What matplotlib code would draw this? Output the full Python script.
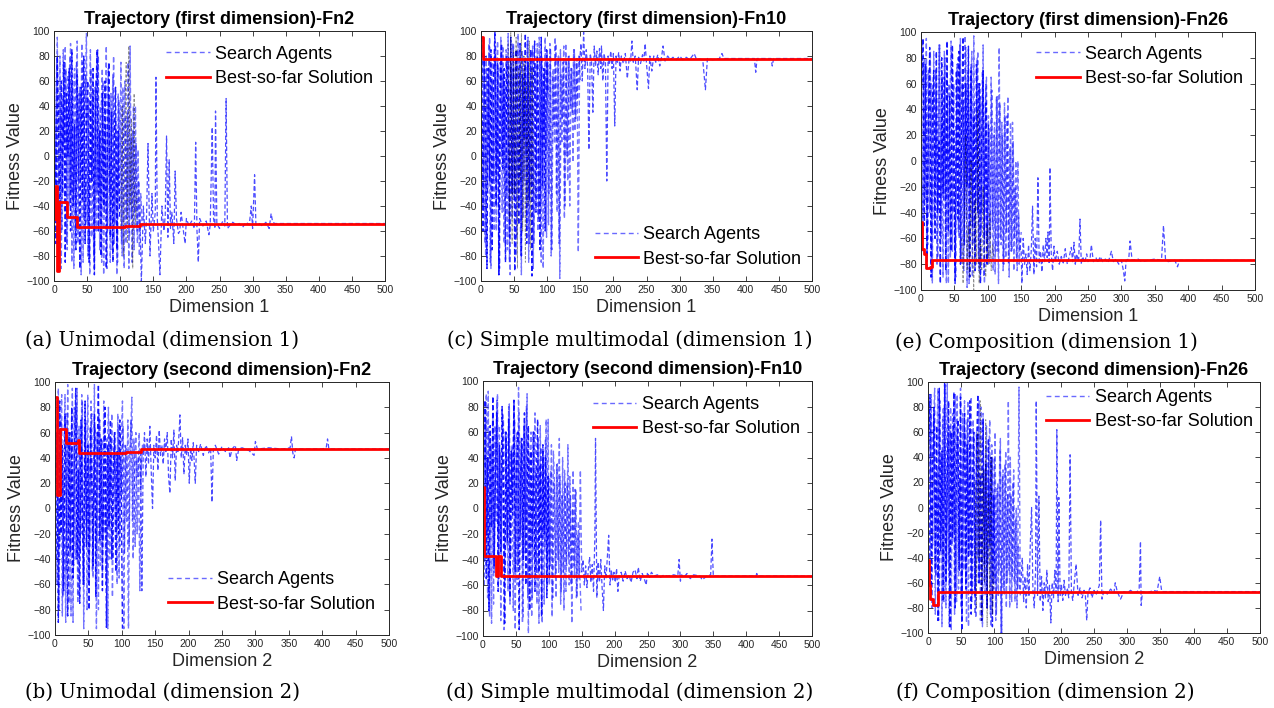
import numpy as np
import matplotlib
matplotlib.use("Agg")
import matplotlib.pyplot as plt
from matplotlib.lines import Line2D

plt.rcParams['font.family'] = ['Liberation Sans', 'DejaVu Sans']

# ---------------- Fn2, dimension 1 ----------------
best_a_x = [0, 2, 4, 7, 19, 35, 107, 130, 500]
best_a_y = [-50, -24, -92, -37, -49, -57, -56, -54, -54]
agent_a1 = [60, -30, 95, -60, 80, -90, 45, 10, 88, -70, 65, -40, 90, -85, 30, 70, -60, 92, -20, 55,
            -95, 75, -50, 40, 98, -80, 20, 85, -65, 50, -90, 60, -30, 80, -75, 35, 70, -95, 15, 88,
            -60, 45, -85, 20, 65, -70, 30, -95, 50, -40, 75, -80, 10, 60, -70, 35, -90, 88, -50, 20,
            -75, 40, -60, 5, -80, -30, -55]
agent_a2 = [-20, 75, -85, 50, 20, -60, 85, -45, 70, -75, 40, 80, -30, 60, -90, 35, 75, -70, 50, -20,
            90, -85, 30, 65, -55, 45, -95, 70, 15, -80, 55, -60, 85, -25, 40, -85, 60, -45, 25, -90,
            70, -30, 50, -75, 80, -55, 20, -85, 45, 10, -70, 55, -90, 30, -50, 75, -65, 15, -85, 40,
            -45, 10, -70, -20, -60]
agent_a3 = [30, -70, 80, 20, -50, 60, -30, 75, -85, 50, 0, 70, -60, 85, -40, 25, -75, 65, 10, -90,
            55, -35, 80, -70, 30, 60, -85, 45, -20, 70, -95, 40, 85, -60, 20, -80, 50, -40, 60, -90,
            25, 75, -65, 35, -85, 10, 55, -75, 20, -50]
agent_a_black = [-60, 40, -80, 20, 75, -70, 88, -40, 30, -90, 50, -55, -30]
tail_a = [(130, -55), (132, -100), (135, -40), (138, -70), (140, -45), (142, 10), (145, -80), (148, -30),
          (150, -60), (153, -45), (154, 63), (156, -50), (158, -70), (160, -95), (163, -40), (166, -60),
          (168, -48), (170, 16), (172, -65), (174, -3), (176, -58), (178, -45), (181, -70), (183, -12),
          (185, -50), (188, -62), (190, -60), (192, -45), (195, -58), (198, -70), (200, -50), (204, -56),
          (208, -52), (212, -58), (214, 11), (216, -60), (218, -85), (220, -50), (225, -56), (230, -52),
          (234, -63), (236, -55), (239, 23), (241, -50), (243, -57), (244, 36), (246, -54), (250, -58),
          (255, -52), (258, -56), (260, 46), (262, -58), (265, -56), (270, -53), (275, -55), (280, -54),
          (285, -57), (290, -53), (295, -55), (298, -40), (300, -58), (303, -15), (305, -55), (310, -54),
          (315, -56), (320, -53), (325, -58), (328, -46), (330, -52), (333, -54), (336, -54), (500, -54)]

# ---------------- Fn2, dimension 2 ----------------
best_b_x = [0, 3, 7, 17, 34, 36, 107, 128, 500]
best_b_y = [88, 11, 63, 52, 54, 44, 45, 47, 47]
agent_b1 = [85, -60, 95, -30, 70, -85, 40, 90, -50, 98, -75, 60, 20, -90, 80, -40, 95, -70, 50, -20,
            85, -95, 65, -10, 90, -60, 40, 75, -55, 98, -30, 60, -80, 70, 20, -50, 85, -20, 55, -95,
            60, 10, 75, -40, 50, 20, -60, 65, -30, 45, 85, -95, 50, -10, 70, -30, 55, 88, -40, 30,
            60, -20, 45, -65, 30, 50, 45]
agent_b2 = [-40, 70, -80, 55, 90, -70, 30, -90, 75, -20, 60, -85, 95, -45, 35, 80, -75, 65, -35, 90,
            -60, 25, 70, -80, 50, -30, 85, -50, 15, 65, -95, 40, 75, -45, 55, -25, 70, -60, 35, 80,
            -40, 55, -70, 30, 60, -15, 75, -55, 40, 10, 65, -35, 50, 20, -95, 45, 70, -10, 55, -30,
            40, 25, 60, 15, 45]
agent_b3 = [20, 60, -90, 85, -20, 50, -65, 75, 10, -85, 60, -35, 80, -55, 45, 95, -40, 30, -75, 70,
            0, -60, 85, -30, 50, -80, 65, 20, -45, 75, -70, 40, 98, -25, 55, -65, 35, 80, -94, 50,
            -15, 70, -40, 25, 60, -50, 45, -20, 70, 30, -95]
agent_b_black = []
tail_b = [(128, 45), (130, -65), (132, 40), (134, 60), (136, 25), (138, 55), (140, 35), (142, 65),
          (144, 30), (146, 0), (148, 50), (150, 40), (152, 58), (154, 30), (156, 62), (158, 42),
          (160, 50), (162, 35), (164, 55), (166, 45), (168, 60), (170, 25), (172, 12), (174, 55),
          (176, 40), (178, 62), (180, 22), (182, 50), (184, 45), (186, 62), (187, 74), (189, 40),
          (191, 56), (193, 27), (195, 50), (197, 42), (199, 55), (201, 20), (203, 48), (205, 38),
          (207, 52), (210, 20), (212, 50), (215, 45), (218, 51), (222, 42), (226, 50), (230, 44),
          (233, 48), (235, 5), (237, 46), (240, 50), (245, 43), (250, 49), (255, 45), (260, 48),
          (262, 40), (265, 47), (270, 50), (272, 38), (275, 47), (280, 48), (290, 46), (298, 42),
          (300, 53), (303, 47), (320, 48), (340, 47), (352, 48), (354, 57), (356, 44), (358, 40),
          (360, 47), (400, 47), (406, 48), (408, 55), (410, 47), (500, 47)]

# ---------------- Fn10, dimension 1 ----------------
best_c_x = [0, 3, 500]
best_c_y = [95, 78, 78]
agent_c1 = [90, -40, 85, -80, 70, 20, 95, -90, 60, -20, 80, -60, 92, -95, 75, 0, 88, -70, 55, -30,
            98, -85, 70, -50, 90, 10, -80, 85, -40, 65, -95, 80, -20, 75, -60, 95, -70, 40, 85, -90,
            70, -10, 90, -50, 80, -85, 60, 20, 95, -65, 75, -30, 85, -75, 70, 10, 90, -45, 80, -98,
            65, 30, 88, -40, 75, -20, 80, 40, 70, -5, 85, 30, 78, -77, 80]
agent_c2 = [60, 95, -70, 80, -30, 90, -85, 50, 75, -60, 88, -10, 70, -90, 95, -45, 65, 15, 85, -75,
            80, -95, 60, 90, -35, 75, -65, 98, 20, -80, 85, -50, 70, 0, 92, -85, 60, -25, 88, -70,
            75, 30, -60, 95, -40, 80, -90, 70, 5, 85, -55, 90, -80, 65, 25, 95, -30, 78, -70, 85,
            10, 75, -50, 90, 0, 80, -40, 70, 35, 85, 20, 75, 45, 80, 60]
agent_c3 = [95, -60, 80, 30, -90, 70, -20, 85, -75, 60, 100, -40, 75, -95, 55, 90, -10, 70, -85, 80,
            25, -65, 95, -30, 70, -92, 85, 40, -55, 90, -80, 65, 15, 98, -70, 75, -35, 85, -96, 60,
            92, -45, 80, 10, -75, 95, -25, 70, -60, 85, 50]
agent_c_black = [90, -50, 100, -70, 85, -30, 95, -90, 70, -20, 98, -60, 80, -85, 60, -40, 92, -75, 70, -30]
tail_c = [(149, 75), (151, 90), (153, 60), (155, 99), (157, 70), (159, 85), (161, 72), (163, 5),
          (165, 82), (167, 75), (169, 35), (171, 88), (173, 72), (175, 84), (177, 65), (179, 86),
          (181, 70), (182, 88), (184, 60), (186, 82), (188, 74), (190, -20), (192, 80), (194, 73),
          (196, 84), (198, 70), (200, 82), (202, 24), (204, 80), (206, 75), (208, 83), (210, 68),
          (212, 80), (215, 74), (218, 82), (221, 62), (224, 79), (226, 76), (228, 92), (230, 75),
          (233, 80), (236, 53), (238, 79), (241, 74), (244, 81), (246, 76), (248, 90), (250, 74),
          (253, 54), (255, 80), (258, 68), (261, 80), (264, 75), (267, 81), (270, 72), (273, 80),
          (275, 88), (278, 76), (282, 80), (286, 77), (290, 79), (295, 77), (300, 80), (305, 77),
          (310, 79), (315, 77), (322, 82), (325, 78), (335, 77), (339, 53), (342, 78), (350, 77),
          (360, 78), (364, 82), (367, 78), (400, 78), (413, 78), (415, 67), (417, 78), (438, 78),
          (440, 72), (442, 78), (500, 78)]

# ---------------- Fn10, dimension 2 ----------------
best_d_x = [0, 2, 19, 23, 28, 500]
best_d_y = [17, -37, -53, -37, -53, -53]
agent_d1 = [80, -40, 90, -70, 60, 20, -90, 75, -50, 40, 85, -20, 65, -88, 30, 70, -60, 55, -30, 80,
            -75, 45, 10, 83, -95, 60, -45, 75, -20, 50, -85, 68, -10, 90, -98, 40, 60, -70, 25, 75,
            -50, 35, -90, 65, -20, 45, -75, 55, -40, 70, -60, 30, -85, 45, 15, -70, 35, -50, 25, -65,
            40, -80, 20, -45, 50, -60, 10, -90, 30, -55, 15, -70, -10, -50, -80]
agent_d2 = [-60, 70, -20, 92, -85, 50, 35, -75, 65, -10, 90, -55, 45, -30, 75, -95, 60, 15, -65, 82,
            -40, 50, -80, 70, 0, -60, 95, -25, 55, -90, 65, -35, 80, -70, 40, 5, -85, 60, -40, 30,
            -75, 55, -15, 48, -90, 40, -30, 70, -60, 25, -45, 50, -70, 20, -55, 35, -40, 55, -75, 10,
            -50, 30, -65, 20, -40, 25, -60, 0, -45, 15, -70, -20, -55, 30, -50]
agent_d3 = [20, 85, -55, 40, -80, 65, -15, 88, -45, 30, 75, -65, 50, -35, 80, 10, -90, 60, -25, 70,
            -70, 45, -5, 85, -50, 35, 60, -95, 25, 55, -40, 75, -60, 15, 65, -80, 45, -30, 60, -65,
            20, 70, -50, 35, -85, 50, -20, 40, -70, 25, -55]
agent_d_black = []
tail_d = [(150, -50), (152, -40), (154, -60), (156, -45), (158, -62), (160, -48), (162, -38), (164, -58),
          (166, -44), (168, -65), (170, -22), (171, 55), (173, -70), (175, -42), (177, -58), (179, -40),
          (181, -62), (183, -80), (185, -45), (187, -55), (189, -38), (191, -21), (193, -60), (195, -48),
          (197, -56), (199, -50), (201, -58), (203, -47), (205, -65), (207, -52), (210, -50), (213, -57),
          (216, -49), (219, -55), (222, -52), (225, -58), (228, -50), (231, -48), (234, -55), (236, -46),
          (239, -57), (242, -51), (245, -55), (248, -60), (250, -50), (253, -54), (256, -50), (260, -53),
          (265, -52), (270, -54), (275, -52), (280, -53), (290, -52), (296, -53), (298, -40), (300, -57),
          (302, -52), (305, -54), (310, -51), (315, -55), (320, -52), (330, -53), (333, -56), (340, -53),
          (346, -52), (348, -24), (350, -53), (415, -53), (416, -51), (418, -53), (500, -53)]

# ---------------- Fn26, dimension 1 ----------------
best_e_x = [0, 1, 2, 4, 8, 13, 16, 500]
best_e_y = [-47, -60, -68, -72, -83, -82, -77, -77]
agent_e1 = [90, -60, 80, 20, -85, 70, -40, 60, -95, 85, -20, 50, -75, 90, -50, 30, -90, 85, -30, 70,
            -95, 40, 93, -70, 60, -85, 20, 80, -60, 95, -80, 45, -35, 88, -98, 55, -20, 75, -90, 97,
            -70, 30, 85, -85, 50, -40, 90, -95, 60, -60, 35, -80, 65, -50, 20, -88, 50, -70, 88, -60,
            30, -85, 45, -75, 35, -80, 10, -70, 30, -85, -20, -75, 0, -80, -60]
agent_e2 = [-70, 75, -30, 95, -65, 40, 85, -90, 55, -45, 70, -80, 20, 90, -60, 65, -30, 80, -95, 50,
            60, -75, 85, -40, 25, -90, 75, -55, 90, -20, 60, -85, 97, -45, 70, -95, 35, 85, -65, 45,
            -30, 80, -80, 60, -55, 70, -90, 40, 65, -75, 25, -60, 55, -85, 30, -70, 50, -95, 45, -65,
            20, -80, 35, -55, 50, -90, 30, -70, 15, -60, 0, -85, -40, -70, -55]
agent_e3 = [60, 95, -50, 75, -75, 30, 88, -90, 45, 70, -60, 85, -40, 15, -95, 80, -25, 65, -85, 93,
            -55, 50, -70, 90, 10, -95, 70, -45, 85, -80, 40, 96, -65, 60, -20, 89, -90, 70, -50, 35,
            -85, 75, -40, 60, -95, 20, 70, -60, 45, -80, 30]
agent_e_black = [-60, -95, -40, 20, -85, -50, -90, 0, -70, -100, -30, -80, 40, -95, -60, -85, -20, -75,
                 -90, -50, -80, -40, -85, -65, -75]
tail_e = [(150, -70), (151, -95), (153, -60), (155, -80), (157, -72), (159, -88), (161, -65), (163, -85),
          (165, -70), (167, -35), (169, -88), (171, -60), (173, -82), (175, -13), (177, -80), (179, -70),
          (181, -86), (183, -65), (185, -78), (187, -60), (189, -75), (190, -55), (192, -80), (193, -5),
          (195, -72), (197, -85), (199, -66), (201, -78), (204, -70), (207, -80), (210, -74), (213, -79),
          (216, -68), (219, -80), (222, -74), (225, -67), (227, -78), (229, -63), (231, -80), (233, -72),
          (236, -78), (238, -45), (240, -80), (242, -74), (245, -79), (248, -72), (250, -78), (253, -76),
          (255, -65), (258, -78), (262, -75), (265, -79), (268, -74), (272, -78), (276, -76), (280, -79),
          (285, -70), (288, -78), (292, -76), (296, -80), (300, -77), (303, -85), (305, -93), (307, -77),
          (311, -76), (313, -62), (316, -77), (325, -76), (330, -78), (340, -77), (350, -76), (360, -77),
          (363, -50), (366, -76), (370, -78), (380, -77), (384, -82), (387, -77), (500, -77)]

# ---------------- Fn26, dimension 2 ----------------
best_f_x = [0, 2, 3, 7, 8, 15, 500]
best_f_y = [-42, -62, -73, -75, -78, -67, -67]
agent_f1 = [85, -60, 90, -30, 70, -85, 50, 95, -70, 40, -95, 80, 20, -80, 100, -50, 65, -98, 75, -20,
            90, -75, 55, -40, 95, -90, 30, 85, -60, 70, -95, 45, 88, -70, 20, -85, 60, -40, 85, -90,
            35, 75, -60, 50, -80, 25, 70, -95, 40, -65, 60, -85, 20, -50, 55, -100, 30, -70, 45, -60,
            85, -80, 10, -55, 30, -75, 0, -65, 96, -70]
agent_f2 = [-40, 75, -80, 60, 95, -55, 30, -90, 85, -20, 70, -75, 98, -45, 55, -95, 80, -30, 65, -85,
            40, 90, -65, 20, -80, 75, -50, 60, -92, 85, -35, 50, -75, 70, -10, -88, 55, -60, 40, 80,
            -95, 30, -70, 65, -45, 20, -85, 50, -60, 40, -90, 15, -70, 45, -100, 25, -65, 35, -80, 10,
            -50, 40, -75, 20, -60, -10, -80, -30, -65]
agent_f3 = [50, 90, -70, 30, 80, -50, 65, -90, 95, -35, 45, -75, 100, -60, 20, 85, -95, 60, -25, 92,
            -80, 40, 70, -50, 88, -98, 30, 75, -65, 50, -40, 85, -85, 15, 60, -70, 45, 90, -60, 25,
            -90, 70, -45, 35, -80, 55, -30, 40, -95, 10, -60]
agent_f_black = [20, -80, 60, -40, 85, -90, 30, -60, 70, -95, 10, -70, 40, -85, -50]
tail_f = [(140, -60), (142, -40), (144, -75), (146, -55), (148, -80), (150, -45), (152, -70), (154, -30),
          (156, 0), (158, -65), (160, -80), (162, -50), (163, 85), (165, -70), (167, 9), (169, -75),
          (171, -55), (173, -82), (175, -60), (177, -72), (179, -50), (181, -75), (183, -62), (185, -92),
          (187, -60), (189, -72), (191, -50), (193, -68), (194, 62), (196, -75), (197, 8), (199, -70),
          (201, -62), (203, -74), (205, -58), (207, -70), (210, -65), (212, -72), (214, 42), (216, -68),
          (218, -74), (220, -62), (223, -45), (226, -70), (229, -64), (232, -72), (235, -66), (237, -70),
          (239, -90), (241, -68), (244, -64), (247, -72), (250, -66), (253, -70), (256, -65), (258, -62),
          (260, -10), (262, -73), (265, -66), (270, -69), (275, -65), (280, -68), (282, -60), (285, -67),
          (290, -73), (295, -67), (300, -68), (305, -66), (310, -68), (315, -67), (318, -65), (320, -27),
          (321, -78), (323, -67), (330, -68), (340, -66), (345, -67), (349, -55), (352, -67), (370, -67),
          (500, -67)]

titles = ['Trajectory (first dimension)-Fn2', 'Trajectory (second dimension)-Fn2',
          'Trajectory (first dimension)-Fn10', 'Trajectory (second dimension)-Fn10',
          'Trajectory (first dimension)-Fn26', 'Trajectory (second dimension)-Fn26']
xlabels = ['Dimension 1', 'Dimension 2', 'Dimension 1', 'Dimension 2', 'Dimension 1', 'Dimension 2']
captions = ['(a) Unimodal (dimension 1)', '(b) Unimodal (dimension 2)',
            '(c) Simple multimodal (dimension 1)', '(d) Simple multimodal (dimension 2)',
            '(e) Composition (dimension 1)', '(f) Composition (dimension 2)']
legend_labels = ['Search Agents', 'Best-so-far Solution']

W, H = 1274, 708
fig = plt.figure(figsize=(W / 100, H / 100), dpi=100)
fig.patch.set_facecolor('white')

# axes boxes in pixels: left, top, right, bottom
boxes = [(54, 31, 385, 281), (55, 382, 389, 635),
         (481, 31, 812, 281), (483, 381, 812, 636),
         (921, 32, 1255, 290), (928, 382, 1260, 633)]
caption_pos = [(162, 340), (163, 692), (630, 340), (630, 692), (1046, 342), (1045, 692)]
# legend anchor (axes fraction) and corner
legend_loc = ['upper right', 'lower right', 'lower right', 'upper right', 'upper right', 'upper right']
legend_anchor = [(0.986, 0.97), (0.98, 0.06), (0.99, 0.025), (0.985, 0.97), (0.986, 0.975), (1.0, 1.0)]

panels = [
    (best_a_x, best_a_y, agent_a1, agent_a2, agent_a3, agent_a_black, 101, tail_a),
    (best_b_x, best_b_y, agent_b1, agent_b2, agent_b3, agent_b_black, 1, tail_b),
    (best_c_x, best_c_y, agent_c1, agent_c2, agent_c3, agent_c_black, 41, tail_c),
    (best_d_x, best_d_y, agent_d1, agent_d2, agent_d3, agent_d_black, 1, tail_d),
    (best_e_x, best_e_y, agent_e1, agent_e2, agent_e3, agent_e_black, 61, tail_e),
    (best_f_x, best_f_y, agent_f1, agent_f2, agent_f3, agent_f_black, 71, tail_f),
]

TXT = '#262626'
dash = (0, (3.5, 2))

for i, (bx, by, s1, s2, s3, sk, k0, tail) in enumerate(panels):
    l, t, r, b = boxes[i]
    ax = fig.add_axes([l / W, 1 - b / H, (r - l) / W, (b - t) / H])

    it1 = 1 + 2 * np.arange(len(s1))
    it2 = 2 + 2 * np.arange(len(s2))
    it3 = 1 + 2 * np.arange(len(s3))
    ax.plot(it1, s1, color='blue', ls=dash, lw=1.0, alpha=0.55)
    ax.plot(it2, s2, color='blue', ls=dash, lw=1.0, alpha=0.55)
    ax.plot(it3, s3, color='blue', ls=dash, lw=1.0, alpha=0.9)
    if len(sk):
        itk = k0 + 2 * np.arange(len(sk))
        ax.plot(itk, sk, color='black', ls=dash, lw=0.6, alpha=0.45)
    tx = [p[0] for p in tail]
    ty = [p[1] for p in tail]
    ax.plot(tx, ty, color='blue', ls=dash, lw=0.9, alpha=0.7)
    h_best, = ax.plot(bx, by, color='red', lw=2, drawstyle='steps-post')
    h_agent = Line2D([], [], color='#6a6aff', ls=(0, (3.5, 2.5)), lw=1.0)

    ax.set_xlim(0, 500)
    ax.set_ylim(-100, 100)
    ax.set_xticks(np.arange(0, 501, 50))
    ax.set_yticks(np.arange(-100, 101, 20))
    ax.tick_params(direction='in', top=True, right=True, length=3.5, width=0.6,
                   labelsize=7.5, colors=TXT, pad=3)
    for sp in ax.spines.values():
        sp.set_color(TXT)
        sp.set_linewidth(0.7)
    ax.set_title(titles[i], fontsize=13, fontweight='bold', pad=5)
    ax.set_xlabel(xlabels[i], fontsize=13, color=TXT, labelpad=3)
    ax.set_ylabel('Fitness Value', fontsize=13, color=TXT, labelpad=2)

    ax.legend([h_agent, h_best], legend_labels, loc=legend_loc[i],
              bbox_to_anchor=legend_anchor[i], frameon=False,
              fontsize=13, handlelength=2.4, handletextpad=0.3, borderaxespad=0.0,
              labelspacing=0.4)

    cx, cy = caption_pos[i]
    fig.text(cx / W, 1 - cy / H, captions[i], ha='center', va='center',
             fontsize=14.2, family=['DejaVu Serif'])

fig.savefig('out.png', dpi=100, facecolor='white')
